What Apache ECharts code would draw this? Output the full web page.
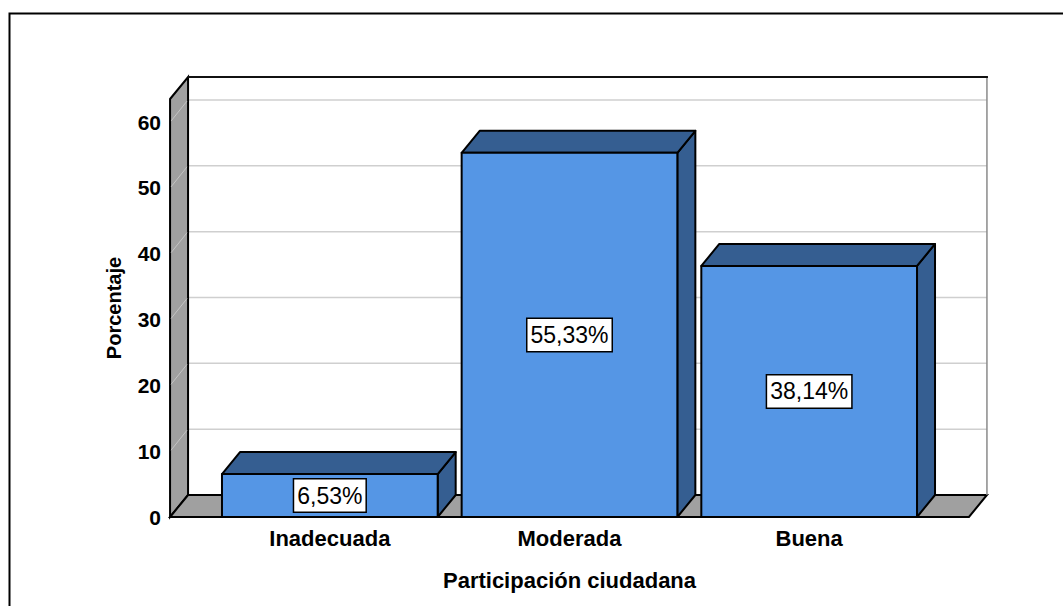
<!DOCTYPE html>
<html>
<head>
<meta charset="utf-8">
<script src="https://cdn.jsdelivr.net/npm/echarts@6/dist/echarts.min.js"></script>
<style>
  html, body { margin: 0; padding: 0; background: #fff; }
  #main { width: 1063px; height: 606px; }
</style>
</head>
<body>
<div id="main"></div>
<script>
// datos del gráfico
var categories = ['Inadecuada', 'Moderada', 'Buena'];
var percentages = [6.53, 55.33, 38.14];
var yTicks = [0, 10, 20, 30, 40, 50, 60];

var FONT = 'Liberation Sans, Arial, sans-serif';
var DX = 18, DY = -22; // profundidad 3D
var WALL = '#a0a0a0';
var FRONT = '#5596e5';
var SHADE = '#355e91';

function fmtPct(v) {
    return v.toFixed(2).replace('.', ',') + '%';
}

// paredes, piso y líneas de cuadrícula
function renderWalls(params, api) {
    var cs = params.coordSys;
    var band = api.size([1, 0])[0];
    var side = band / 6;
    var x0 = cs.x - side, x1 = cs.x + cs.width + side;
    var yt = cs.y, yb = cs.y + cs.height;
    var children = [];

    children.push({
        type: 'polygon',
        shape: { points: [[x0 + DX, yt + DY], [x1 + DX, yt + DY], [x1 + DX, yb + DY], [x0 + DX, yb + DY]] },
        style: { fill: '#fff', stroke: null }
    });

    for (var k = 1; k < yTicks.length; k++) {
        var y = api.coord([0, yTicks[k]])[1];
        children.push({
            type: 'polyline',
            shape: { points: [[x0 + DX, y + DY], [x1 + DX, y + DY]] },
            style: { stroke: '#cfcfcf', lineWidth: 1.5, fill: null }
        });
    }

    children.push({
        type: 'polygon',
        shape: { points: [[x0, yt], [x0 + DX, yt + DY], [x0 + DX, yb + DY], [x0, yb]] },
        style: { fill: WALL, stroke: '#000', lineWidth: 2 }
    });
    for (var k2 = 1; k2 < yTicks.length; k2++) {
        var y2 = api.coord([0, yTicks[k2]])[1];
        children.push({
            type: 'polyline',
            shape: { points: [[x0 + 1, y2 - 1], [x0 + DX - 1, y2 + DY + 1]] },
            style: { stroke: '#c4c4c4', lineWidth: 1, fill: null }
        });
    }

    children.push({
        type: 'polygon',
        shape: { points: [[x0, yb], [x0 + DX, yb + DY], [x1 + DX, yb + DY], [x1, yb]] },
        style: { fill: WALL, stroke: '#000', lineWidth: 2 }
    });
    children.push({
        type: 'polyline',
        shape: { points: [[x1 + DX, yb + DY], [x1 + DX, yt + DY]] },
        style: { stroke: '#8a8a8a', lineWidth: 1.5, fill: null }
    });
    children.push({
        type: 'polyline',
        shape: { points: [[x0 + DX, yt + DY], [x1 + DX + 1, yt + DY]] },
        style: { stroke: '#111', lineWidth: 2, fill: null }
    });

    return { type: 'group', children: children };
}

// barras 3D con etiqueta
function renderBar(params, api) {
    var i = api.value(0), v = api.value(1);
    var top = api.coord([i, v]);
    var base = api.coord([i, 0]);
    var half = api.size([1, 0])[0] * 0.45;
    var l = top[0] - half, r = top[0] + half;
    var yT = top[1], yB = base[1];
    var edge = { stroke: '#000', lineWidth: 2, lineJoin: 'round' };

    return {
        type: 'group',
        children: [
            {
                type: 'polygon',
                shape: { points: [[r, yT], [r + DX, yT + DY], [r + DX, yB + DY], [r, yB]] },
                style: Object.assign({ fill: SHADE }, edge)
            },
            {
                type: 'polygon',
                shape: { points: [[l, yT], [l + DX, yT + DY], [r + DX, yT + DY], [r, yT]] },
                style: Object.assign({ fill: SHADE }, edge)
            },
            {
                type: 'rect',
                shape: { x: l, y: yT, width: r - l, height: yB - yT },
                style: Object.assign({ fill: FRONT }, edge)
            },
            {
                type: 'text',
                x: top[0],
                y: (yT + yB) / 2,
                style: {
                    text: fmtPct(v),
                    align: 'center',
                    verticalAlign: 'middle',
                    fill: '#000',
                    font: '23px ' + FONT,
                    backgroundColor: '#fff',
                    borderColor: '#000',
                    borderWidth: 1.5,
                    padding: [5, 3, 4, 3]
                }
            }
        ]
    };
}

var barData = [];
for (var i = 0; i < categories.length; i++) {
    barData.push([i, percentages[i]]);
}

var chart = echarts.init(document.getElementById('main'), null, { renderer: 'svg' });

chart.setOption({
    backgroundColor: '#fff',
    animation: false,
    graphic: [{
        type: 'rect',
        left: 7,
        top: 11,
        shape: { x: 0, y: 0, width: 1200, height: 800 },
        style: { fill: null, stroke: '#000', lineWidth: 2 },
        z: 100
    }],
    grid: { left: 210, right: 134, top: 99, bottom: 89 },
    xAxis: {
        type: 'category',
        data: categories,
        axisLine: { show: false },
        axisTick: { show: false },
        splitLine: { show: false },
        axisLabel: { color: '#000', fontFamily: FONT, fontSize: 22, fontWeight: 'bold', margin: 10 },
        name: 'Participación ciudadana',
        nameLocation: 'middle',
        nameGap: 52,
        nameTextStyle: { color: '#000', fontFamily: FONT, fontSize: 22, fontWeight: 'bold' }
    },
    yAxis: {
        type: 'value',
        min: 0,
        max: 63.5,
        interval: 10,
        offset: 40,
        axisLine: { show: false },
        axisTick: { show: false },
        splitLine: { show: false },
        axisLabel: { color: '#000', fontFamily: FONT, fontSize: 21, fontWeight: 'bold', margin: 9, showMaxLabel: false },
        name: 'Porcentaje',
        nameLocation: 'middle',
        nameGap: 46,
        nameTextStyle: { color: '#000', fontFamily: FONT, fontSize: 20, fontWeight: 'bold' }
    },
    series: [
        {
            type: 'custom',
            silent: true,
            renderItem: renderWalls,
            data: [[0, 0]],
            z: 1
        },
        {
            type: 'custom',
            silent: true,
            renderItem: renderBar,
            data: barData,
            z: 2
        }
    ]
});
</script>
</body>
</html>
